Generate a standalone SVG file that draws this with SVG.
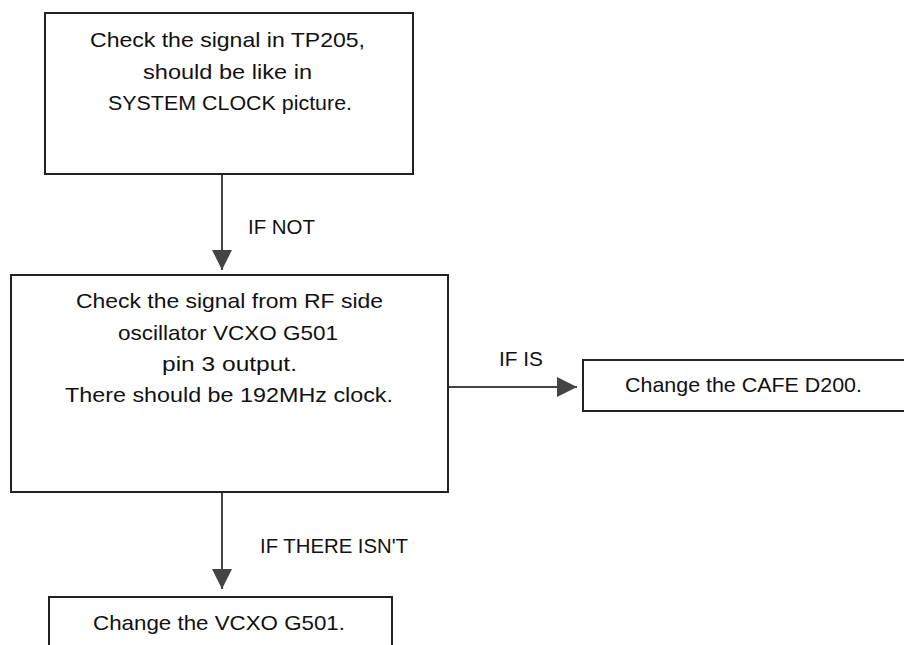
<svg xmlns="http://www.w3.org/2000/svg" width="904" height="645" viewBox="0 0 904 645">
<style>
.box{fill:#fff;stroke:#222;stroke-width:2}
.t{font-family:"Liberation Sans",Arial,sans-serif;font-size:21px;fill:#111}
.c{fill:none;stroke:#444;stroke-width:2}
</style>
<defs>
<marker id="ah" markerUnits="userSpaceOnUse" markerWidth="20" markerHeight="20" refX="20" refY="10" orient="auto">
<path d="M0,0 L20,10 L0,20 Z" fill="#444"/>
</marker>
</defs>
<rect width="904" height="645" fill="#fff"/>
<g id="connectors">
<line class="c" x1="222" y1="174" x2="222" y2="270" marker-end="url(#ah)"/>
<line class="c" x1="448" y1="387" x2="577" y2="387" marker-end="url(#ah)"/>
<line class="c" x1="222" y1="492" x2="222" y2="589" marker-end="url(#ah)"/>
<text class="t" x="248" y="234" textLength="67" lengthAdjust="spacingAndGlyphs">IF NOT</text>
<text class="t" x="499" y="366" textLength="44" lengthAdjust="spacingAndGlyphs">IF IS</text>
<text class="t" x="260" y="553" textLength="148" lengthAdjust="spacingAndGlyphs">IF THERE ISN'T</text>
</g>
<g id="node1">
<rect class="box" x="45" y="13" width="368" height="161"/>
<text class="t" x="90" y="47" textLength="275" lengthAdjust="spacingAndGlyphs">Check the signal in TP205,</text>
<text class="t" x="143" y="79" textLength="169" lengthAdjust="spacingAndGlyphs">should be like in</text>
<text class="t" x="108" y="110" textLength="244" lengthAdjust="spacingAndGlyphs">SYSTEM CLOCK picture.</text>
</g>
<g id="node2">
<rect class="box" x="11" y="275" width="437" height="217"/>
<text class="t" x="76" y="308" textLength="307" lengthAdjust="spacingAndGlyphs">Check the signal from RF side</text>
<text class="t" x="118" y="340" textLength="220" lengthAdjust="spacingAndGlyphs">oscillator VCXO G501</text>
<text class="t" x="162" y="371" textLength="135" lengthAdjust="spacingAndGlyphs">pin 3 output.</text>
<text class="t" x="65" y="402" textLength="328" lengthAdjust="spacingAndGlyphs">There should be 192MHz clock.</text>
</g>
<g id="node3">
<rect class="box" x="583" y="360" width="325" height="51"/>
<text class="t" x="625" y="392" textLength="237" lengthAdjust="spacingAndGlyphs">Change the CAFE D200.</text>
</g>
<g id="node4">
<rect class="box" x="49" y="597" width="343" height="60"/>
<text class="t" x="93" y="630" textLength="252" lengthAdjust="spacingAndGlyphs">Change the VCXO G501.</text>
</g>
</svg>
